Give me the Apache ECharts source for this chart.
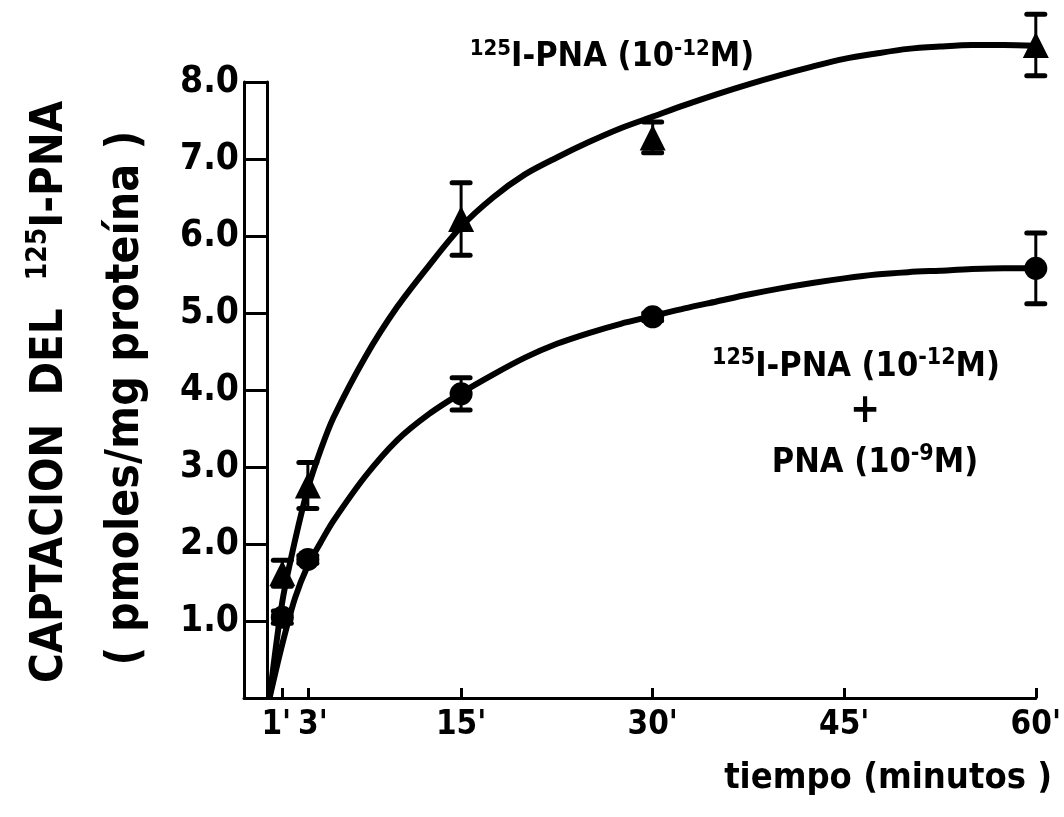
<!DOCTYPE html>
<html>
<head>
<meta charset="utf-8">
<script src="https://cdn.jsdelivr.net/npm/echarts@6/dist/echarts.min.js"></script>
<style>
  html, body { margin: 0; padding: 0; background: #fff; }
  #chart { width: 1064px; height: 817px; }
</style>
</head>
<body>
<div id="chart"></div>
<script>
const FONT = "'Liberation Sans Narrow', 'DejaVu Sans Condensed', 'Roboto Condensed', 'Liberation Sans', sans-serif";

// Sampling times (minutes)
const times = [1, 3, 15, 30, 60];

// 125I-PNA (10^-12 M) alone: mean and half error bar
const pnaMean = [1.62, 2.76, 6.22, 7.28, 8.48];
const pnaErr  = [0.17, 0.30, 0.47, 0.20, 0.40];

// 125I-PNA (10^-12 M) + PNA (10^-9 M)
const compMean = [1.05, 1.80, 3.95, 4.95, 5.58];
const compErr  = [0.08, 0.05, 0.21, 0.05, 0.46];

// Fitted curves, sampled along each drawn line
const fitT     = [0, 1, 2, 3, 4, 5, 7.5, 10, 12.5, 15, 17.5, 20, 22.5, 25, 27.5, 30,
                  32.5, 35, 37.5, 40, 42.5, 45, 47.5, 50, 52.5, 55, 57.5, 60];
const pnaFitV  = [0, 1.25, 2.05, 2.72, 3.22, 3.64, 4.43, 5.08, 5.62, 6.12, 6.5, 6.8, 7.02, 7.22, 7.4, 7.55,
                  7.7, 7.84, 7.97, 8.09, 8.2, 8.3, 8.37, 8.43, 8.46, 8.48, 8.48, 8.47];
const compFitV = [0, 0.7, 1.3, 1.72, 2.02, 2.3, 2.88, 3.35, 3.69, 3.96, 4.2, 4.42, 4.6, 4.74, 4.86, 4.96,
                  5.06, 5.15, 5.24, 5.32, 5.39, 5.45, 5.5, 5.53, 5.55, 5.57, 5.58, 5.58];

// Axis ticks
const xTicks = [1, 3, 15, 30, 45, 60];
const yMin = 0, yMax = 8, yStep = 1;

const zip = (a, b) => a.map((v, i) => [v, b[i]]);
const bars = (m, e) => times.map((t, i) => [t, m[i] - e[i], m[i] + e[i]]);

function errorBar(params, api) {
  const x = api.value(0);
  const lo = api.coord([x, api.value(1)]);
  const hi = api.coord([x, api.value(2)]);
  const hw = 9;
  const cap = { stroke: '#000', lineWidth: 5, lineCap: 'round' };
  return {
    type: 'group',
    children: [
      { type: 'line', shape: { x1: hi[0], y1: hi[1], x2: lo[0], y2: lo[1] }, style: { stroke: '#000', lineWidth: 3 } },
      { type: 'line', shape: { x1: hi[0] - hw, y1: hi[1], x2: hi[0] + hw, y2: hi[1] }, style: cap },
      { type: 'line', shape: { x1: lo[0] - hw, y1: lo[1], x2: lo[0] + hw, y2: lo[1] }, style: cap }
    ]
  };
}

const txt = (size) => ({ fontFamily: FONT, fontWeight: 'bold', fontSize: size, color: '#000' });

// The 1' and 3' labels sit very close together, so the ticks are split over two
// overlapping x axes (alternate ticks on each) and those two labels are nudged apart.
function timeLabel(v) {
  if (v === xTicks[0]) return '{l|' + v + "'}";
  if (v === xTicks[1]) return '{r|' + v + "'}";
  return v + "'";
}
function timeAxis(ticks, showLine) {
  return {
    type: 'value', min: -2, max: 60, position: 'bottom',
    axisLine: { show: showLine, onZero: false, lineStyle: { color: '#000', width: 3 } },
    axisTick: { customValues: ticks, inside: true, length: 10, lineStyle: { color: '#000', width: 3 } },
    axisLabel: Object.assign({ customValues: ticks, margin: 11, hideOverlap: false,
      showMinLabel: true, showMaxLabel: true, formatter: timeLabel,
      rich: {
        l: Object.assign({ padding: [0, 12, 0, 0] }, txt(33)),
        r: Object.assign({ padding: [0, 0, 0, 10] }, txt(33))
      } }, txt(33)),
    splitLine: { show: false }
  };
}

const chart = echarts.init(document.getElementById('chart'), null, { renderer: 'canvas' });
chart.setOption({
  animation: false,
  backgroundColor: '#fff',
  grid: { left: 244, right: 24, top: 82, bottom: 119 },
  xAxis: [
    timeAxis(xTicks.filter((v, i) => i % 2 === 0), true),
    timeAxis(xTicks.filter((v, i) => i % 2 === 1), false)
  ],
  yAxis: [{
    type: 'value', min: yMin, max: yMax, interval: yStep,
    axisLine: { show: true, onZero: false, lineStyle: { color: '#000', width: 3 } },
    axisTick: { show: true, inside: true, length: 23, lineStyle: { color: '#000', width: 3 } },
    axisLabel: Object.assign({ margin: 5, showMinLabel: false, formatter: v => v === 0 ? '' : v.toFixed(1) }, txt(37)),
    splitLine: { show: false }
  }, {
    type: 'value', min: yMin, max: yMax, interval: yStep, position: 'left', offset: -23,
    axisLine: { show: true, onZero: false, lineStyle: { color: '#000', width: 3 } },
    axisTick: { show: false }, axisLabel: { show: false }, splitLine: { show: false }
  }],
  series: [
    { type: 'line', data: zip(fitT, pnaFitV), showSymbol: false, smooth: 0.3, clip: false,
      lineStyle: { color: '#000', width: 6 }, z: 2 },
    { type: 'line', data: zip(fitT, compFitV), showSymbol: false, smooth: 0.3, clip: false,
      lineStyle: { color: '#000', width: 6 }, z: 2 },
    { type: 'custom', renderItem: errorBar, data: bars(pnaMean, pnaErr), clip: false, z: 3 },
    { type: 'custom', renderItem: errorBar, data: bars(compMean, compErr), clip: false, z: 3 },
    { type: 'scatter', data: zip(times, pnaMean), symbol: 'triangle', symbolSize: 26, clip: false,
      itemStyle: { color: '#000', opacity: 1 }, z: 4 },
    { type: 'scatter', data: zip(times, compMean), symbol: 'circle', symbolSize: 23, clip: false,
      itemStyle: { color: '#000', opacity: 1 }, z: 4 }
  ],
  graphic: [
    { type: 'text', x: 612, y: 57, style: {
        text: '{s|125}{m|I-PNA (10}{s|-12}{m|M)}', align: 'center', verticalAlign: 'middle',
        rich: { m: Object.assign({ lineHeight: 38 }, txt(34)), s: Object.assign({ verticalAlign: 'top', lineHeight: 38 }, txt(22)) } } },
    { type: 'text', x: 856, y: 367, style: {
        text: '{s|125}{m|I-PNA (10}{s|-12}{m|M)}', align: 'center', verticalAlign: 'middle',
        rich: { m: Object.assign({ lineHeight: 40 }, txt(34)), s: Object.assign({ verticalAlign: 'top', lineHeight: 40 }, txt(23)) } } },
    { type: 'text', x: 865, y: 412, style: Object.assign({ text: '+', align: 'center', verticalAlign: 'middle' }, txt(40)) },
    { type: 'text', x: 875, y: 463, style: {
        text: '{m|PNA (10}{s|-9}{m|M)}', align: 'center', verticalAlign: 'middle',
        rich: { m: Object.assign({ lineHeight: 40 }, txt(34)), s: Object.assign({ verticalAlign: 'top', lineHeight: 40 }, txt(23)) } } },
    { type: 'text', x: 1052, y: 779, style: Object.assign({ text: 'tiempo (minutos )', align: 'right', verticalAlign: 'middle' }, txt(36)) },
    { type: 'text', x: 50, y: 392, rotation: Math.PI / 2, style: {
        text: '{m|CAPTACION  DEL  }{s|125}{m|I-PNA}', align: 'center', verticalAlign: 'middle',
        rich: { m: Object.assign({ lineHeight: 50 }, txt(45)), s: Object.assign({ verticalAlign: 'top', lineHeight: 50 }, txt(28)) } } },
    { type: 'text', x: 126, y: 398, rotation: Math.PI / 2, style: Object.assign({
        text: '( pmoles/mg proteína )', align: 'center', verticalAlign: 'middle' }, txt(46)) }
  ]
});
</script>
</body>
</html>
